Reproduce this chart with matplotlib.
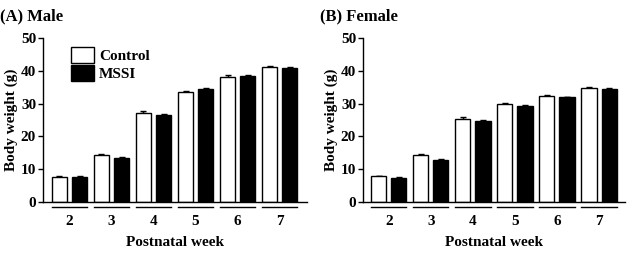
import numpy as np
import matplotlib
matplotlib.use("Agg")
from matplotlib import pyplot as plt
from matplotlib.patches import Patch

# ---------------- data ----------------
weeks = ['2', '3', '4', '5', '6', '7']

male_control = [7.6, 14.4, 27.2, 33.6, 38.2, 41.1]
male_mssi = [7.6, 13.4, 26.5, 34.4, 38.4, 41.0]
male_control_err = [0.2, 0.3, 0.4, 0.4, 0.5, 0.5]
male_mssi_err = [0.2, 0.2, 0.3, 0.3, 0.3, 0.3]

female_control = [7.8, 14.3, 25.4, 29.9, 32.3, 34.7]
female_mssi = [7.4, 12.8, 24.6, 29.3, 31.9, 34.5]
female_control_err = [0.2, 0.4, 0.4, 0.3, 0.4, 0.4]
female_mssi_err = [0.2, 0.2, 0.4, 0.3, 0.2, 0.3]

plt.rcParams['font.family'] = ['Liberation Serif', 'DejaVu Serif']
plt.rcParams['font.weight'] = 'bold'

fig = plt.figure(figsize=(6.27, 2.57), dpi=100)
ax1 = fig.add_axes([0.0686, 0.214, 0.421, 0.638])
ax2 = fig.add_axes([0.579, 0.214, 0.418, 0.638])

width = 0.36
off = 0.24


def draw(ax, ctrl, mssi, ctrl_err, mssi_err, xlim):
    x = np.arange(len(weeks))
    ax.bar(x - off, ctrl, width, color='white', edgecolor='black', linewidth=1.0, zorder=2)
    ax.bar(x + off, mssi, width, color='black', edgecolor='black', linewidth=1.0, zorder=2)
    ax.errorbar(x - off, ctrl, yerr=[np.zeros(len(x)), ctrl_err], fmt='none',
                ecolor='black', elinewidth=1, capsize=2.5, capthick=1, zorder=1)
    ax.errorbar(x + off, mssi, yerr=[np.zeros(len(x)), mssi_err], fmt='none',
                ecolor='black', elinewidth=1, capsize=2.5, capthick=1, zorder=1)
    # group underline segments
    for xi in x:
        ax.plot([xi - off - width / 2, xi + off + width / 2], [-1.5, -1.5],
                color='black', linewidth=1, clip_on=False)
    ax.set_xlim(*xlim)
    ax.set_ylim(0, 50)
    ax.set_yticks([0, 10, 20, 30, 40, 50])
    ax.set_xticks(x)
    ax.set_xticklabels(weeks)
    ax.tick_params(axis='x', length=0, pad=9, labelsize=11)
    ax.tick_params(axis='y', direction='out', length=3.5, width=1, pad=1.5, labelsize=11)
    for lab in ax.get_xticklabels() + ax.get_yticklabels():
        lab.set_fontweight('bold')
    ax.spines['top'].set_visible(False)
    ax.spines['right'].set_visible(False)
    ax.spines['left'].set_linewidth(1)
    ax.spines['bottom'].set_linewidth(1)
    ax.set_ylabel('Body weight (g)', fontsize=11, fontweight='bold', labelpad=2)
    ax.set_xlabel('Postnatal week', fontsize=11, fontweight='bold', labelpad=6)


draw(ax1, male_control, male_mssi, male_control_err, male_mssi_err, (-0.63, 5.65))
draw(ax2, female_control, female_mssi, female_control_err, female_mssi_err, (-0.61, 5.62))

handles = [Patch(facecolor='white', edgecolor='black', linewidth=1),
           Patch(facecolor='black', edgecolor='black', linewidth=1)]
ax1.legend(handles, ['Control', 'MSSI'], loc='upper left', bbox_to_anchor=(0.055, 1.03),
           frameon=False, handlelength=1.5, handleheight=1.2, handletextpad=0.3,
           labelspacing=0.15, prop={'weight': 'bold', 'size': 11})

fig.text(0.0, 0.937, '(A) Male', fontsize=12, fontweight='bold', va='center', ha='left')
fig.text(0.51, 0.937, '(B) Female', fontsize=12, fontweight='bold', va='center', ha='left')

fig.savefig('out.png', dpi=100)
